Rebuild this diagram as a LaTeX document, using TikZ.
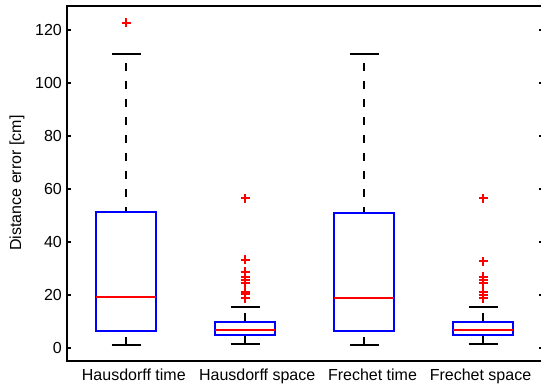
\documentclass[tikz,border=0pt]{standalone}
\usepackage{fontspec}
\setmainfont{Liberation Sans}
\begin{document}
\begin{tikzpicture}[x=1pt,y=-1pt,
  frame/.style={line width=2.3pt,black},
  tickln/.style={line width=2pt,black},
  boxln/.style={line width=2pt,blue},
  medln/.style={line width=2pt,red},
  whisk/.style={line width=2pt,black,dash pattern=on 8pt off 10pt},
  capln/.style={line width=2pt,black},
  plusm/.style={line width=2pt,red},
  lab/.style={font=\fontsize{16}{18}\selectfont,inner sep=0pt},
]
\useasboundingbox (0,0) rectangle (541,387);
\clip (0,0) rectangle (541,387);
% frame
\draw[frame] (545,6) -- (66.7,6) -- (66.7,361) -- (545,361);
% data scope
\begin{scope}[shift={(0,347.7)}, y=2.65pt]
  \foreach \v in {0,20,...,120}{
    \draw[tickln] (66.7,\v) -- (71.2,\v);
    \draw[tickln] (543,\v) -- (538.5,\v);
    \node[lab,anchor=east] (yt\v) at (62,\v) {\v};
  }
  \foreach \c/\lo/\qa/\md/\qb/\hi/\ph in {126/1/6.3/19/51.3/110.8/9.3, 245/1.3/4.8/6.7/9.7/15.4/11.7, 364/1/6.3/18.6/50.8/110.8/9.3, 483/1.3/4.8/6.7/9.7/15.4/11.7}{
    \draw[whisk,dash phase=\ph pt] (\c,\hi) -- (\c,\qb);
    \draw[whisk,dash phase=0pt] (\c,\lo) -- (\c,\qa);
    \draw[capln] (\c-14.5,\hi) -- (\c+14.5,\hi);
    \draw[capln] (\c-14.5,\lo) -- (\c+14.5,\lo);
    \draw[boxln] (\c-30,\qa) rectangle (\c+30,\qb);
    \draw[medln] (\c-30,\md) -- (\c+30,\md);
  }
  \foreach \c/\v in {126/122.6,
     245/56.4, 245/33.1, 245/28.7, 245/26.8, 245/25.5, 245/24.5, 245/21.1, 245/20.2, 245/18.6,
     483/56.4, 483/32.7, 483/26.8, 483/25.5, 483/24.5, 483/21.1, 483/19.9, 483/18.6}{
    \draw[plusm] (\c,\v) ++(-4.5pt,0pt) -- ++(9pt,0pt);
    \draw[plusm] (\c,\v) ++(0pt,-4.5pt) -- ++(0pt,9pt);
  }
\end{scope}
% category labels
\node[lab,anchor=base] (l1) at (133.8,380.5) {Hausdorff time};
\node[lab,anchor=base] (l2) at (257.2,380.5) {Hausdorff space};
\node[lab,anchor=base] (l3) at (372.5,380.5) {Frechet time};
\node[lab,anchor=base] (l4) at (480.5,380.5) {Frechet space};
% y label
\node[lab,rotate=90] (ylab) at (17,183) {Distance error [cm]};
\end{tikzpicture}
\end{document}
